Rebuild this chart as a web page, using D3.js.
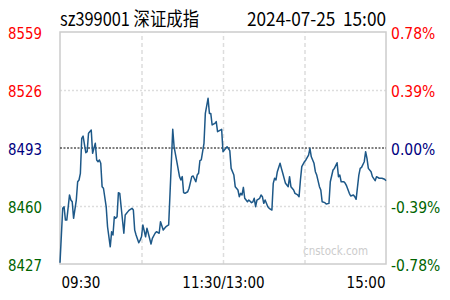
<!DOCTYPE html>
<html lang="zh">
<head>
<meta charset="UTF-8">
<title>sz399001 深证成指 分时</title>
<script src="https://d3js.org/d3.v7.min.js"></script>
<style>
  body { margin: 0; background: #fff; }
  svg { display: block; }
  .lbl { font-family: "DejaVu Sans", sans-serif; font-size: 15px; }
  .title { font-family: "Noto Sans CJK SC", "DejaVu Sans", sans-serif; font-size: 19px; fill: #000; white-space: pre; }
</style>
</head>
<body>
<script>
// 分时数据：距 09:30 的交易分钟数 与 指数点位
var minutes = [0,2,3,4,5,7,8,9,10,12,13,14,15,16,17,19,20,21,23,24,26,27,28,29,30,31,32,34,35,37,38,39,40,41,42,43,44,45,47,48,50,51,53,54,55,56,58,59,60,61,63,64,65,67,68,70,71,73,74,76,77,78,80,81,83,84,86,88,89,90,91,92,94,95,97,98,100,101,102,103,104,106,107,109,110,111,112,114,115,116,118,119,120,122,123,125,126,128,129,131,132,133,134,135,136,138,139,141,142,143,144,145,147,148,149,150,151,153,154,156,157,158,159,160,162,163,164,166,168,169,170,172,173,175,176,177,178,180,181,183,184,185,187,188,189,191,192,193,195,196,198,199,201,202,204,205,206,207,209,210,211,213,214,216,217,218,220,221,222,224,225,226,227,229,230,232,233,235,237,239,240];
var prices = [8427.7,8458.7,8459.6,8452.0,8452.0,8466.3,8463.4,8462.4,8453.0,8463.4,8473.8,8474.8,8478.6,8498.5,8499.8,8490.3,8490.9,8501.4,8503.2,8490.0,8495.7,8486.2,8485.2,8486.2,8484.3,8471.0,8470.1,8459.6,8448.2,8436.8,8445.4,8443.5,8453.9,8453.0,8453.9,8467.6,8467.2,8459.6,8444.5,8454.9,8456.8,8457.7,8458.7,8457.7,8446.3,8443.5,8439.1,8440.6,8442.5,8449.2,8442.5,8447.3,8444.5,8438.4,8441.6,8444.5,8445.4,8444.5,8451.1,8446.3,8447.3,8448.2,8449.2,8467.2,8503.6,8493.7,8485.2,8476.7,8474.8,8476.7,8467.6,8467.2,8468.1,8470.1,8476.7,8477.1,8473.8,8477.6,8478.6,8485.8,8486.2,8495.7,8512.7,8521.3,8512.7,8512.7,8506.1,8507.0,8508.0,8502.3,8503.2,8503.6,8490.9,8492.8,8493.7,8491.5,8481.4,8477.6,8471.0,8469.1,8465.3,8467.2,8466.3,8470.6,8464.4,8462.4,8463.4,8461.9,8462.4,8464.4,8459.6,8463.4,8464.4,8466.3,8465.3,8461.5,8463.4,8459.6,8458.7,8457.7,8472.9,8475.8,8474.8,8479.5,8484.3,8481.4,8478.6,8472.9,8471.0,8476.7,8471.0,8469.1,8467.2,8466.3,8465.3,8474.8,8482.4,8485.2,8486.2,8489.0,8492.8,8488.0,8484.3,8479.5,8477.6,8471.0,8469.1,8462.4,8461.9,8461.1,8461.5,8473.8,8480.5,8481.4,8484.6,8476.7,8477.6,8473.8,8473.8,8472.9,8471.4,8467.2,8465.7,8466.3,8465.3,8463.8,8477.6,8481.4,8482.0,8485.2,8490.9,8487.1,8481.4,8479.5,8476.7,8474.4,8476.7,8475.8,8475.8,8475.2,8474.4];

var prevClose = 8493;
var priceTicks = [8559, 8526, 8493, 8460, 8427];
var pctTicks = ["0.78%", "0.39%", "0.00%", "-0.39%", "-0.78%"];
var timeTicks = [0, 120, 240];
var timeLabels = ["09:30", "11:30/13:00", "15:00"];
var titleLeft = "sz399001 深证成指";
var titleRight = "2024-07-25  15:00";

var width = 450, height = 300;
var plotL = 60, plotR = 386, plotT = 32, plotB = 264;

var svg = d3.select("body").append("svg")
    .attr("width", width)
    .attr("height", height);

var x = d3.scaleLinear().domain([0, 240]).range([plotL, plotR]);
var y = d3.scaleLinear().domain([8427, 8559]).range([plotB, plotT]);

// 涨红 平蓝 跌绿
function tickColor(v) {
    if (v > prevClose) return "#ff0000";
    if (v < prevClose) return "#006400";
    return "#000080";
}

// 把文字横向压窄一点，接近原图的字形
function squeeze(sel, k) {
    sel.each(function() {
        var w = this.getComputedTextLength();
        this.setAttribute("textLength", w * k);
        this.setAttribute("lengthAdjust", "spacingAndGlyphs");
    });
}

// 水印
svg.append("text")
    .attr("class", "lbl")
    .attr("x", 303).attr("y", 255)
    .style("font-size", "13px")
    .style("fill", "#cccccc")
    .attr("textLength", 65).attr("lengthAdjust", "spacingAndGlyphs")
    .text("cnstock.com");

// 竖向网格
svg.append("g")
    .attr("transform", "translate(0," + plotB + ")")
    .call(d3.axisBottom(x).tickValues([60, 120, 180]).tickSize(-(plotB - plotT)).tickFormat(""))
    .call(function(g) { g.select(".domain").remove(); })
    .selectAll("line")
    .attr("stroke", "#dddddd")
    .attr("stroke-width", 1.5)
    .attr("stroke-dasharray", "4,3");

// 横向网格
svg.append("g")
    .attr("transform", "translate(" + plotL + ",0)")
    .call(d3.axisLeft(y).tickValues([8526, 8460]).tickSize(-(plotR - plotL)).tickFormat(""))
    .call(function(g) { g.select(".domain").remove(); })
    .selectAll("line")
    .attr("stroke", "#dddddd")
    .attr("stroke-width", 1.5)
    .attr("stroke-dasharray", "2,2");

// 边框
svg.append("rect")
    .attr("x", plotL).attr("y", plotT)
    .attr("width", plotR - plotL).attr("height", plotB - plotT)
    .attr("fill", "none")
    .attr("stroke", "#cccccc")
    .attr("stroke-width", 1.5);

// 昨收线
svg.append("line")
    .attr("x1", plotL).attr("x2", plotR)
    .attr("y1", y(prevClose)).attr("y2", y(prevClose))
    .attr("stroke", "#000")
    .attr("stroke-width", 1)
    .attr("stroke-dasharray", "2,1.5");

// 左轴 点位
var yl = svg.append("g")
    .attr("transform", "translate(" + plotL + ",0)")
    .call(d3.axisLeft(y).tickValues(priceTicks).tickSize(0).tickFormat(d3.format("d")));
yl.select(".domain").remove();
yl.selectAll("text")
    .attr("class", "lbl")
    .attr("x", -52)
    .attr("dy", "0.4em")
    .attr("text-anchor", "start")
    .attr("fill", function(d) { return tickColor(d); })
    .call(squeeze, 0.89);

// 右轴 涨跌幅
var yr = svg.append("g")
    .attr("transform", "translate(" + plotR + ",0)")
    .call(d3.axisRight(y).tickValues(priceTicks).tickSize(0).tickPadding(5)
        .tickFormat(function(d, i) { return pctTicks[i]; }));
yr.select(".domain").remove();
yr.selectAll("text")
    .attr("class", "lbl")
    .attr("dy", "0.4em")
    .attr("fill", function(d) { return tickColor(d); })
    .call(squeeze, 0.93);

// 时间轴
var xa = svg.append("g")
    .attr("transform", "translate(0," + plotB + ")")
    .call(d3.axisBottom(x).tickValues(timeTicks).tickSize(0)
        .tickFormat(function(d, i) { return timeLabels[i]; }));
xa.select(".domain").remove();
xa.selectAll("text")
    .attr("class", "lbl")
    .attr("y", 24)
    .attr("dy", 0)
    .attr("fill", "#000")
    .attr("text-anchor", function(d, i) { return i === 0 ? "start" : (i === timeTicks.length - 1 ? "end" : "middle"); })
    .attr("dx", function(d, i) { return i === 0 ? 1 : (i === timeTicks.length - 1 ? -1 : 0); })
    .call(squeeze, 0.9);

// 分时线
var line = d3.line()
    .x(function(d, i) { return x(minutes[i]); })
    .y(function(d) { return y(d); });

svg.append("path")
    .datum(prices)
    .attr("d", line)
    .attr("fill", "none")
    .attr("stroke", "#1d5888")
    .attr("stroke-width", 1.5)
    .attr("stroke-linejoin", "round");

// 标题
svg.append("text")
    .attr("class", "title")
    .attr("x", plotL).attr("y", 26)
    .attr("textLength", 139).attr("lengthAdjust", "spacingAndGlyphs")
    .text(titleLeft);
svg.append("text")
    .attr("class", "title")
    .attr("x", plotR).attr("y", 26)
    .attr("text-anchor", "end")
    .attr("textLength", 139).attr("lengthAdjust", "spacingAndGlyphs")
    .text(titleRight);
</script>
</body>
</html>
